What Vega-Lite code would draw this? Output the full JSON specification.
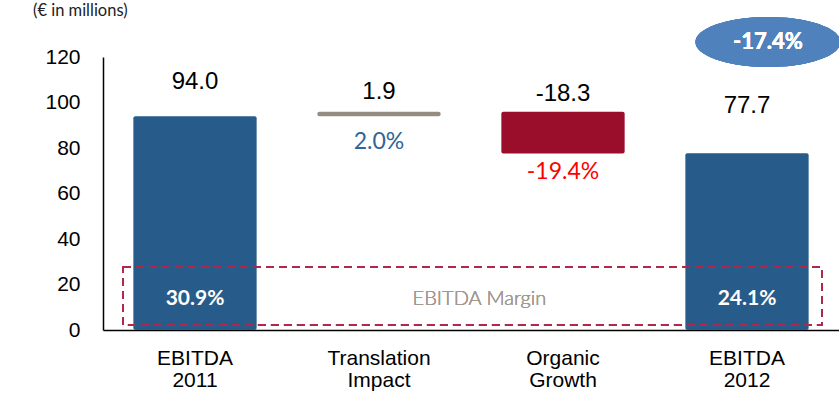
{
  "$schema": "https://vega.github.io/schema/vega-lite/v6.json",
  "width": 736,
  "height": 273,
  "autosize": {"type": "none"},
  "padding": {"left": 103, "top": 57, "right": 0, "bottom": 86},
  "background": "white",
  "config": {"view": {"stroke": null}, "font": "Liberation Sans"},
  "title": {
    "text": "(€ in millions)",
    "anchor": "start",
    "frame": "group",
    "dx": -70,
    "offset": -3,
    "fontSize": 16.5,
    "fontWeight": "normal",
    "font": "Lato",
    "color": "#222222"
  },
  "data": {
    "values": [
      {"cat": "EBITDA 2011", "start": 0, "end": 94.0, "label": "94.0", "kind": "total", "margin": "30.9%"},
      {"cat": "Translation Impact", "start": 94.0, "end": 95.9, "label": "1.9", "kind": "up", "pct": "2.0%"},
      {"cat": "Organic Growth", "start": 95.9, "end": 77.6, "label": "-18.3", "kind": "down", "pct": "-19.4%"},
      {"cat": "EBITDA 2012", "start": 0, "end": 77.7, "label": "77.7", "kind": "total", "margin": "24.1%"}
    ]
  },
  "encoding": {
    "x": {
      "field": "cat",
      "type": "nominal",
      "sort": null,
      "scale": {"paddingInner": 0.33, "paddingOuter": 0.165},
      "axis": {
        "title": null,
        "labelAngle": 0,
        "ticks": false,
        "domainColor": "#000000",
        "domainWidth": 1.5,
        "labelFontSize": 21,
        "labelColor": "#000000",
        "labelPadding": 17,
        "labelLineHeight": 22,
        "labelExpr": "split(datum.value, ' ')"
      }
    }
  },
  "layer": [
    {
      "mark": {"type": "bar", "cornerRadius": 2},
      "encoding": {
        "y": {
          "field": "start",
          "type": "quantitative",
          "scale": {"domain": [0, 120], "nice": false},
          "axis": {
            "title": null,
            "values": [0, 20, 40, 60, 80, 100, 120],
            "grid": false,
            "ticks": false,
            "domainColor": "#000000",
            "domainWidth": 1.5,
            "labelFontSize": 21,
            "labelColor": "#000000",
            "labelPadding": 23
          }
        },
        "y2": {"field": "end"},
        "color": {
          "field": "kind",
          "type": "nominal",
          "scale": {"domain": ["total", "up", "down"], "range": ["#275c8a", "#968b81", "#9b0e2b"]},
          "legend": null
        }
      }
    },
    {
      "mark": {"type": "rect", "fill": null, "stroke": "#b0294b", "strokeWidth": 1.5, "strokeDash": [8, 5]},
      "encoding": {
        "x": {"datum": "EBITDA 2011", "bandPosition": -0.084},
        "x2": {"datum": "EBITDA 2012", "bandPosition": 1.108},
        "y": {"datum": 27.7},
        "y2": {"datum": 2.2}
      }
    },
    {
      "mark": {"type": "text", "font": "Lato", "fontSize": 20, "fontWeight": 300, "color": "#a39991"},
      "encoding": {
        "x": {"datum": "Organic Growth", "bandPosition": -0.178},
        "y": {"datum": 13.5},
        "text": {"value": "EBITDA Margin"}
      }
    },
    {
      "transform": [{"filter": "datum.margin != null"}],
      "mark": {"type": "text", "font": "Lato", "fontWeight": "bold", "fontSize": 21, "color": "#ffffff"},
      "encoding": {
        "y": {"datum": 13.5},
        "text": {"field": "margin"}
      }
    },
    {
      "transform": [{"filter": "datum.cat == 'EBITDA 2011'"}],
      "mark": {"type": "text", "fontSize": 24, "color": "#000000", "dy": -34},
      "encoding": {"y": {"field": "end", "type": "quantitative"}, "text": {"field": "label"}}
    },
    {
      "transform": [{"filter": "datum.cat == 'Translation Impact'"}],
      "mark": {"type": "text", "fontSize": 24, "color": "#000000", "dy": -20},
      "encoding": {"y": {"field": "end", "type": "quantitative"}, "text": {"field": "label"}}
    },
    {
      "transform": [{"filter": "datum.cat == 'Organic Growth'"}],
      "mark": {"type": "text", "fontSize": 24, "color": "#000000", "dy": -18},
      "encoding": {"y": {"field": "start", "type": "quantitative"}, "text": {"field": "label"}}
    },
    {
      "transform": [{"filter": "datum.cat == 'EBITDA 2012'"}],
      "mark": {"type": "text", "fontSize": 24, "color": "#000000", "dy": -47},
      "encoding": {"y": {"field": "end", "type": "quantitative"}, "text": {"field": "label"}}
    },
    {
      "transform": [{"filter": "datum.cat == 'Translation Impact'"}],
      "mark": {"type": "text", "font": "Lato", "fontSize": 23, "color": "#2f6597", "dy": 26},
      "encoding": {"y": {"field": "start", "type": "quantitative"}, "text": {"field": "pct"}}
    },
    {
      "transform": [{"filter": "datum.cat == 'Organic Growth'"}],
      "mark": {"type": "text", "font": "Lato", "fontSize": 23, "color": "#ff0000", "dy": 19},
      "encoding": {"y": {"field": "end", "type": "quantitative"}, "text": {"field": "pct"}}
    },
    {
      "mark": {"type": "point", "shape": "M-1,0A1,0.345,0,1,0,1,0A1,0.345,0,1,0,-1,0Z", "filled": true, "color": "#4f81bd", "opacity": 1, "size": 21025},
      "encoding": {
        "x": {"datum": "EBITDA 2012", "bandPosition": 0.67},
        "y": {"datum": 126.6}
      }
    },
    {
      "mark": {"type": "text", "font": "Lato", "fontWeight": "bold", "fontSize": 22, "color": "#ffffff"},
      "encoding": {
        "x": {"datum": "EBITDA 2012", "bandPosition": 0.67},
        "y": {"datum": 126.6},
        "text": {"value": "-17.4%"}
      }
    }
  ]
}
